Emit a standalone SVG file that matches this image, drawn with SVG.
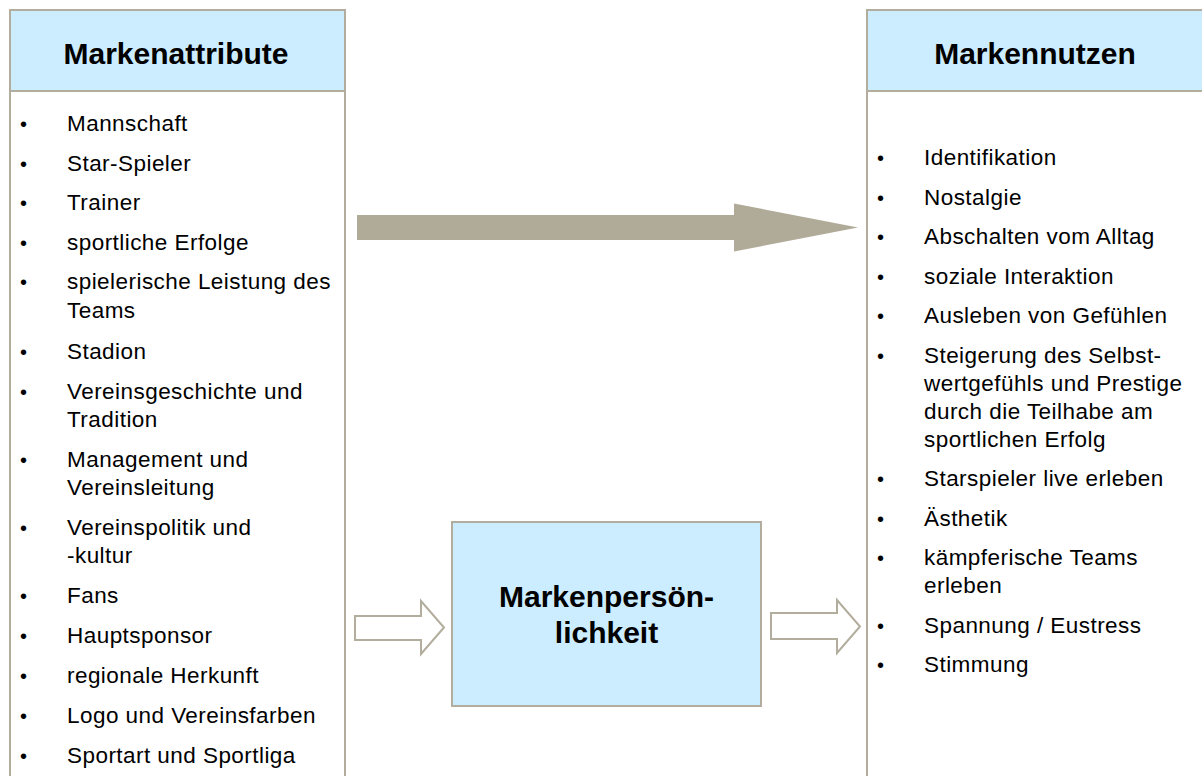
<svg xmlns="http://www.w3.org/2000/svg" width="1202" height="776" viewBox="0 0 1202 776">
<style>
.box{fill:#ffffff;stroke:#B3AD9E;stroke-width:2}
.hdr{fill:#CCECFF;stroke:#B3AD9E;stroke-width:2}
.h{font-family:"Liberation Sans",Arial,sans-serif;font-weight:bold;font-size:30px;fill:#000;text-anchor:middle}
.t{font-family:"Liberation Sans",Arial,sans-serif;font-size:22.5px;letter-spacing:0.45px;fill:#000}
.b{font-family:"Liberation Sans",Arial,sans-serif;font-size:20px;fill:#000}
.big{fill:#B0AA99}
.out{fill:#ffffff;stroke:#B3AD9E;stroke-width:2}
</style>
<rect width="1202" height="776" fill="#ffffff"/>
<g id="markenattribute">
<rect class="box" x="10" y="10" width="335" height="780"/>
<rect class="hdr" x="10" y="10" width="335" height="81"/>
<text class="h" x="176" y="64">Markenattribute</text>
<g class="b">
<text x="20" y="131">•</text><text x="20" y="170.5">•</text><text x="20" y="210">•</text><text x="20" y="249.5">•</text><text x="20" y="289">•</text><text x="20" y="358.5">•</text><text x="20" y="398.5">•</text><text x="20" y="466.5">•</text><text x="20" y="534.5">•</text><text x="20" y="603">•</text><text x="20" y="643">•</text><text x="20" y="683">•</text><text x="20" y="723">•</text><text x="20" y="763">•</text>
</g>
<g class="t">
<text x="67" y="131">Mannschaft</text>
<text x="67" y="170.5">Star-Spieler</text>
<text x="67" y="210">Trainer</text>
<text x="67" y="249.5">sportliche Erfolge</text>
<text x="67" y="289">spielerische Leistung des</text>
<text x="67" y="317.5">Teams</text>
<text x="67" y="358.5">Stadion</text>
<text x="67" y="398.5">Vereinsgeschichte und</text>
<text x="67" y="426.5">Tradition</text>
<text x="67" y="466.5">Management und</text>
<text x="67" y="494.5">Vereinsleitung</text>
<text x="67" y="534.5">Vereinspolitik und</text>
<text x="67" y="562.5">-kultur</text>
<text x="67" y="603">Fans</text>
<text x="67" y="643">Hauptsponsor</text>
<text x="67" y="683">regionale Herkunft</text>
<text x="67" y="723">Logo und Vereinsfarben</text>
<text x="67" y="763">Sportart und Sportliga</text>
</g>
</g>
<g id="markennutzen">
<rect class="box" x="867" y="10" width="336" height="780"/>
<rect class="hdr" x="867" y="10" width="336" height="81"/>
<text class="h" x="1035" y="64">Markennutzen</text>
<g class="b">
<text x="877" y="165">•</text><text x="877" y="204.5">•</text><text x="877" y="244">•</text><text x="877" y="283.5">•</text><text x="877" y="323">•</text><text x="877" y="362.5">•</text><text x="877" y="486">•</text><text x="877" y="525.5">•</text><text x="877" y="565">•</text><text x="877" y="632.5">•</text><text x="877" y="672">•</text>
</g>
<g class="t">
<text x="924" y="165">Identifikation</text>
<text x="924" y="204.5">Nostalgie</text>
<text x="924" y="244">Abschalten vom Alltag</text>
<text x="924" y="283.5">soziale Interaktion</text>
<text x="924" y="323">Ausleben von Gefühlen</text>
<text x="924" y="362.5">Steigerung des Selbst-</text>
<text x="924" y="390.5">wertgefühls und Prestige</text>
<text x="924" y="418.5">durch die Teilhabe am</text>
<text x="924" y="446.5">sportlichen Erfolg</text>
<text x="924" y="486">Starspieler live erleben</text>
<text x="924" y="525.5">Ästhetik</text>
<text x="924" y="565">kämpferische Teams</text>
<text x="924" y="593">erleben</text>
<text x="924" y="632.5">Spannung / Eustress</text>
<text x="924" y="672">Stimmung</text>
</g>
</g>
<g id="markenpersoenlichkeit">
<rect class="hdr" x="452" y="522" width="309" height="184"/>
<text class="h" x="606.5" y="606.5">Markenpersön-</text>
<text class="h" x="606.5" y="643">lichkeit</text>
</g>
<g id="connectors">
<polygon class="big" points="357,215 734,215 734,203.5 858,227.5 734,251.5 734,240 357,240"/>
<polygon class="out" points="355,616 421,616 421,601 444,627.5 421,654 421,640 355,640"/>
<polygon class="out" points="771,613 837,613 837,600 860,626.5 837,653 837,639 771,639"/>
</g>
</svg>
